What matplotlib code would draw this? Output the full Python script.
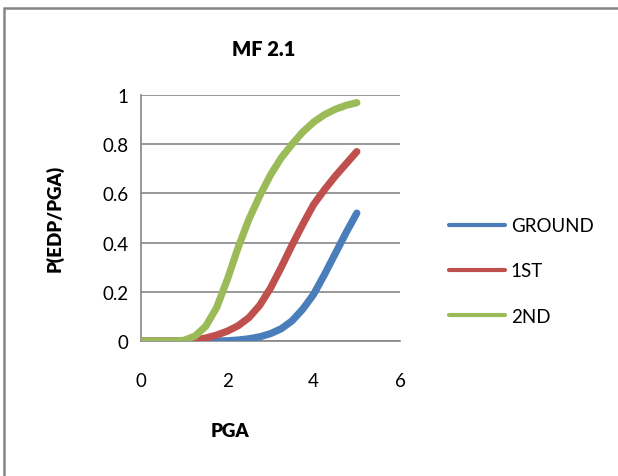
import matplotlib.pyplot as plt
from matplotlib.patches import Rectangle

plt.rcParams['font.family'] = ['Lato', 'DejaVu Sans']

# PGA values and the fragility curves read per storey
pga = [0, 0.25, 0.5, 0.75, 1.0, 1.25, 1.5, 1.75, 2.0, 2.25, 2.5,
       2.75, 3.0, 3.25, 3.5, 3.75, 4.0, 4.25, 4.5, 4.75, 5.0]
ground = [0, 0, 0, 0, 0, 0, 0, 0, 0.001, 0.004, 0.009,
          0.017, 0.03, 0.05, 0.082, 0.13, 0.19, 0.27, 0.355, 0.44, 0.52]
first = [0, 0, 0, 0, 0, 0.004, 0.012, 0.024, 0.04, 0.062, 0.095,
         0.145, 0.215, 0.30, 0.39, 0.475, 0.555, 0.615, 0.67, 0.72, 0.77]
second = [0, 0, 0, 0, 0.003, 0.02, 0.06, 0.135, 0.25, 0.38, 0.495,
          0.59, 0.675, 0.745, 0.80, 0.85, 0.89, 0.92, 0.942, 0.958, 0.969]

labels = ['GROUND', '1ST', '2ND']
colores = ['#4A7EBB', '#C0504D', '#9BBB59']

fig = plt.figure(figsize=(6.18, 4.77), dpi=100)
ax = fig.add_axes([0.2282, 0.283, 0.419, 0.5157])

for serie, nome, cor in zip([ground, first, second], labels, colores):
    ax.plot(pga, serie, color=cor, lw=5.2, label=nome,
            solid_capstyle='round', solid_joinstyle='round', zorder=3)

ax.set_xlim(0, 6)
ax.set_ylim(0, 1)
ax.set_xticks([0, 2, 4, 6])
ax.set_yticks([0, 0.2, 0.4, 0.6, 0.8, 1])
ax.set_yticklabels(['0', '0.2', '0.4', '0.6', '0.8', '1'])
ax.grid(axis='y', color='#868686', lw=1.2)
ax.tick_params(length=0, labelsize=13.5, pad=9)
ax.tick_params(axis='x', pad=22)
for lado in ['top', 'right']:
    ax.spines[lado].set_visible(False)
for lado in ['left', 'bottom']:
    ax.spines[lado].set_color('#868686')
    ax.spines[lado].set_linewidth(1.2)

fig.text(264 / 618, 1 - 50 / 477, 'MF 2.1', ha='center', va='center',
         fontsize=14.5, fontweight='heavy')
fig.text(55 / 618, 1 - 218 / 477, 'P(EDP/PGA)', ha='center', va='center',
         rotation=90, fontsize=13.5, fontweight='heavy')
fig.text(230 / 618, 1 - 432 / 477, 'PGA', ha='center', va='center',
         fontsize=13.5, fontweight='heavy')

leg = fig.legend(loc='center left', bbox_to_anchor=(432 / 618, 1 - 272 / 477),
                 frameon=False, fontsize=13.5, handlelength=3.0,
                 handletextpad=0.3, labelspacing=1.5)
for linha in leg.get_lines():
    linha.set_linewidth(3)

# moldura do grafico
fig.patches.append(Rectangle((4 / 618, -0.1), 1.2, 1 - 9 / 477 + 0.1,
                             transform=fig.transFigure, fill=False,
                             edgecolor='#868686', lw=1.8))

fig.savefig('out.png', dpi=100)
